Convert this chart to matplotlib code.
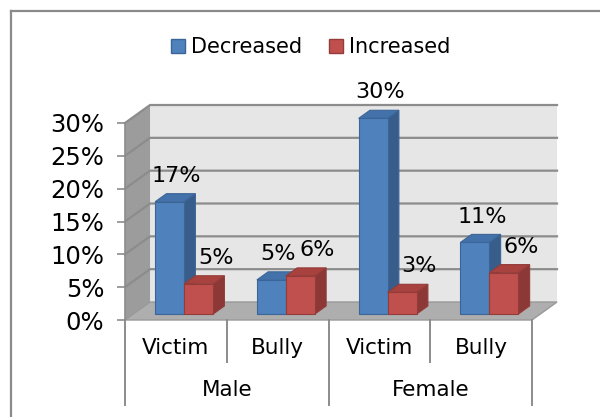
import matplotlib.pyplot as plt
from matplotlib.patches import Polygon, Rectangle, Patch
from matplotlib.lines import Line2D

# data
groups = ["Male", "Female"]
roles = ["Victim", "Bully", "Victim", "Bully"]
decreased = [17.1, 5.2, 29.8, 10.9]
increased = [4.6, 5.8, 3.3, 6.3]
yticks = [0, 5, 10, 15, 20, 25, 30]

blue = dict(front="#4F81BD", side="#385D8A", top="#4372AA", edge="#3C6597")
red = dict(front="#C0504D", side="#8C3836", top="#A8423F", edge="#943C39")

# 3d look (oblique offsets in data units)
DX, DY = 0.246, 2.74
F0, F1 = 0.33, 0.78
W = 0.285
YMAX = 30

fig = plt.figure(figsize=(6, 4.17), dpi=100)
ax = fig.add_axes([125 / 600, 1 - 320 / 417, 407 / 600, 197 / 417])
ax.set_xlim(0, 4)
ax.set_ylim(0, YMAX)

# walls and floor
ax.add_patch(Polygon([(DX, DY), (4 + DX, DY), (4 + DX, YMAX + DY), (DX, YMAX + DY)],
                     closed=True, fc="#E6E6E6", ec="none", clip_on=False, zorder=1))
ax.add_patch(Polygon([(0, 0), (DX, DY), (DX, YMAX + DY), (0, YMAX)],
                     closed=True, fc="#9C9C9C", ec="none", clip_on=False, zorder=1))
ax.add_patch(Polygon([(0, 0), (4, 0), (4 + DX, DY), (DX, DY)],
                     closed=True, fc="#AEAEAE", ec="#999999", lw=1, clip_on=False, zorder=2))
for v in yticks[1:]:
    ax.plot([0, DX, 4 + DX], [v, v + DY, v + DY], color="#8C8C8C", lw=1.6,
            clip_on=False, zorder=1.5)


def bar3d(x0, v, c):
    fx, fy = F0 * DX, F0 * DY
    bx, by = F1 * DX, F1 * DY
    ax.add_patch(Polygon([(x0 + W + fx, fy), (x0 + W + bx, by), (x0 + W + bx, v + by),
                          (x0 + W + fx, v + fy)], closed=True, fc=c["side"], ec=c["edge"],
                         lw=0.8, clip_on=False, zorder=3))
    ax.add_patch(Polygon([(x0 + fx, v + fy), (x0 + W + fx, v + fy), (x0 + W + bx, v + by),
                          (x0 + bx, v + by)], closed=True, fc=c["top"], ec=c["edge"],
                         lw=0.8, clip_on=False, zorder=3))
    ax.add_patch(Rectangle((x0 + fx, fy), W, v, fc=c["front"], ec=c["edge"], lw=0.8,
                           clip_on=False, zorder=3))


for i in range(4):
    c = i + 0.5
    bar3d(c - W, decreased[i], blue)
    bar3d(c, increased[i], red)
    ax.text(c - W / 2 + 0.07 + F0 * DX, decreased[i] + F1 * DY + 1.2,
            "%d%%" % round(decreased[i]), ha="center", va="bottom", fontsize=16,
            zorder=5)
    ax.text(c + W / 2 + 0.17 + F0 * DX, increased[i] + F1 * DY + 1.2,
            "%d%%" % round(increased[i]), ha="center", va="bottom", fontsize=16,
            zorder=5)

# y axis
for s in ["top", "right", "bottom"]:
    ax.spines[s].set_visible(False)
ax.spines["left"].set_color("#8C8C8C")
ax.spines["left"].set_linewidth(1.2)
ax.set_yticks(yticks)
ax.set_yticklabels(["%d%%" % t for t in yticks], fontsize=17.5)
ax.tick_params(axis="y", direction="out", length=6, width=1.2, color="#8C8C8C", pad=9)
ax.set_xticks([])
ax.patch.set_visible(False)

# category axis (two levels)
for i in range(5):
    bottom = -12.9 if i % 2 == 0 else -6.4
    ax.plot([i, i], [0, bottom], color="#8C8C8C", lw=1.4, clip_on=False)
for i, r in enumerate(roles):
    ax.text(i + 0.5, -4.3, r, ha="center", va="center", fontsize=15.5)
for j, g in enumerate(groups):
    ax.text(2 * j + 1, -10.7, g, ha="center", va="center", fontsize=15.5)

# legend
handles = [Patch(fc=blue["front"], ec=blue["edge"]), Patch(fc=red["front"], ec=red["edge"])]
fig.legend(handles, ["Decreased", "Increased"], loc="center",
           bbox_to_anchor=(311 / 600, 1 - 47 / 417), ncol=2, frameon=False, fontsize=15,
           handlelength=0.65, handleheight=0.65, handletextpad=0.3, columnspacing=1.3)

# chart frame
fig.add_artist(Line2D([10.5 / 600, 1], [1 - 10.5 / 417] * 2, color="#8A8A8A", lw=1.6,
                      transform=fig.transFigure))
fig.add_artist(Line2D([10.5 / 600] * 2, [0, 1 - 10.5 / 417], color="#8A8A8A", lw=1.6,
                      transform=fig.transFigure))

fig.savefig("out.png", dpi=100)
